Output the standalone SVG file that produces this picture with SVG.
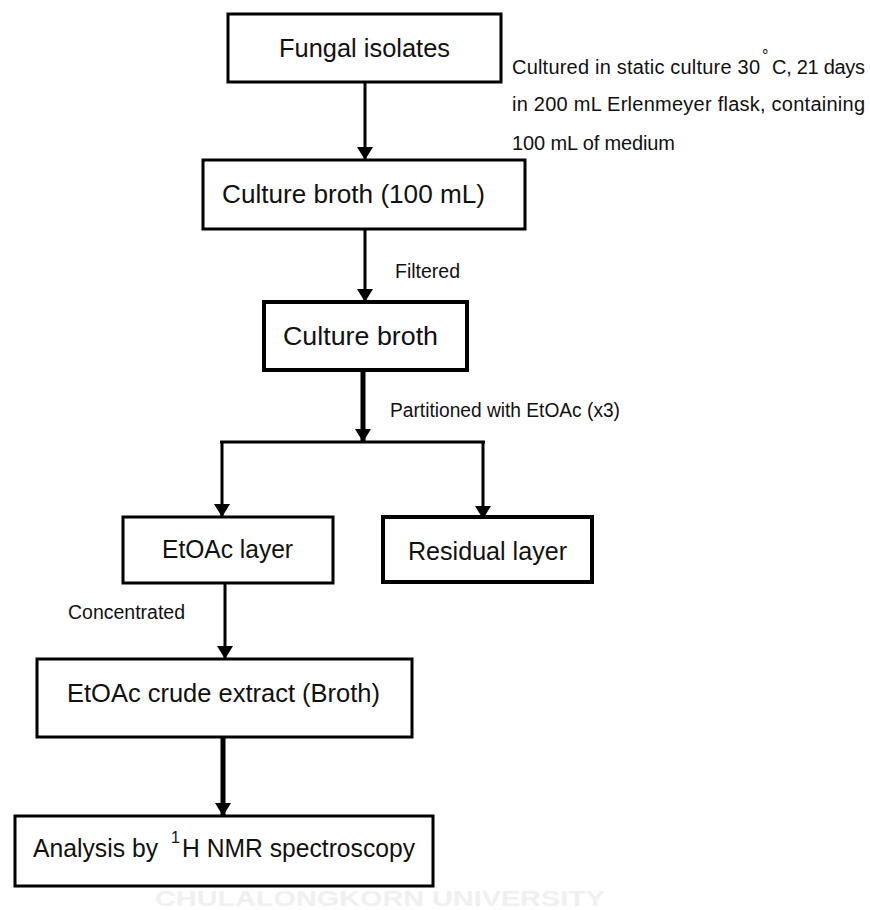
<svg xmlns="http://www.w3.org/2000/svg" width="870" height="910" viewBox="0 0 870 910">
<style>
.box{fill:#fff;stroke:#000;stroke-width:3}
.thick{stroke-width:4}
.nt{font-family:"Liberation Sans",Arial,sans-serif;font-size:25px;fill:#111}
.lb{font-family:"Liberation Sans",Arial,sans-serif;font-size:20px;fill:#111}
.wm{font-family:"Liberation Sans",Arial,sans-serif;font-size:22px;font-weight:bold;fill:#f0f0f0}
.ln{fill:none;stroke:#000;stroke-width:3}
.lt{stroke-width:5}
</style>
<defs>
<marker id="ah" viewBox="0 0 13 16" refX="13" refY="8" markerWidth="13" markerHeight="16" markerUnits="userSpaceOnUse" orient="auto">
<path d="M0,0 L13,8 L0,16 Z" fill="#000"/>
</marker>
</defs>
<rect width="870" height="910" fill="#fff"/>
<text class="wm" x="155" y="906" textLength="450" lengthAdjust="spacingAndGlyphs">CHULALONGKORN UNIVERSITY</text>
<g id="connectors">
<line class="ln" x1="365" y1="82" x2="365" y2="160" marker-end="url(#ah)"/>
<line class="ln" x1="365" y1="229" x2="365" y2="302" marker-end="url(#ah)"/>
<line class="ln lt" x1="363" y1="370" x2="363" y2="442" marker-end="url(#ah)"/>
<line class="ln" stroke-width="4" x1="220" y1="442" x2="485" y2="442"/>
<line class="ln" stroke-width="4" x1="222" y1="442" x2="222" y2="517" marker-end="url(#ah)"/>
<line class="ln" stroke-width="4" x1="483" y1="442" x2="483" y2="519" marker-end="url(#ah)"/>
<line class="ln" x1="225" y1="583" x2="225" y2="659" marker-end="url(#ah)"/>
<line class="ln lt" x1="223" y1="737" x2="223" y2="816" marker-end="url(#ah)"/>
</g>
<g id="n1">
<rect class="box" x="228" y="14" width="273" height="68"/>
<text class="nt" x="279" y="57" textLength="171" lengthAdjust="spacingAndGlyphs">Fungal isolates</text>
</g>
<g id="n2">
<rect class="box" x="203" y="160" width="322" height="69"/>
<text class="nt" x="222" y="203" textLength="263" lengthAdjust="spacingAndGlyphs">Culture broth (100 mL)</text>
</g>
<g id="n3">
<rect class="box thick" x="264" y="302" width="203" height="68"/>
<text class="nt" x="283" y="345" textLength="155" lengthAdjust="spacingAndGlyphs">Culture broth</text>
</g>
<g id="n4">
<rect class="box" x="123" y="517" width="210" height="66"/>
<text class="nt" x="162" y="558" textLength="131" lengthAdjust="spacingAndGlyphs">EtOAc layer</text>
</g>
<g id="n5">
<rect class="box thick" x="383" y="517" width="209" height="65"/>
<text class="nt" x="408" y="560" textLength="159" lengthAdjust="spacingAndGlyphs">Residual layer</text>
</g>
<g id="n6">
<rect class="box" x="37" y="659" width="375" height="78"/>
<text class="nt" x="67" y="702" textLength="313" lengthAdjust="spacingAndGlyphs">EtOAc crude extract (Broth)</text>
</g>
<g id="n7">
<rect class="box" x="15" y="816" width="418" height="70"/>
<text class="nt" x="33" y="857" textLength="125" lengthAdjust="spacingAndGlyphs">Analysis by</text>
<text class="nt" x="171" y="843" style="font-size:16px">1</text>
<text class="nt" x="182" y="857" textLength="233" lengthAdjust="spacingAndGlyphs">H NMR spectroscopy</text>
</g>
<g id="labels">
<text class="lb" x="512" y="74" textLength="248" lengthAdjust="spacing">Cultured in static culture 30</text>
<text class="lb" x="762" y="61" style="font-size:16px">°</text>
<text class="lb" x="772" y="74" textLength="93" lengthAdjust="spacing">C, 21 days</text>
<text class="lb" x="512" y="111" textLength="353" lengthAdjust="spacing">in 200 mL Erlenmeyer flask, containing</text>
<text class="lb" x="512" y="150" textLength="163" lengthAdjust="spacing">100 mL of medium</text>
<text class="lb" x="395" y="278" textLength="65" lengthAdjust="spacingAndGlyphs">Filtered</text>
<text class="lb" x="390" y="417" textLength="230" lengthAdjust="spacingAndGlyphs">Partitioned with EtOAc (x3)</text>
<text class="lb" x="68" y="619" textLength="117" lengthAdjust="spacingAndGlyphs">Concentrated</text>
</g>
</svg>
